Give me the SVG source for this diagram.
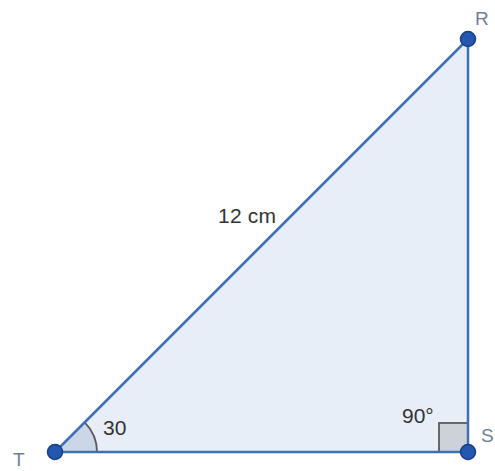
<svg xmlns="http://www.w3.org/2000/svg" width="495" height="471" viewBox="0 0 495 471">
<style>
.edge{stroke:#3f70b0;stroke-width:2.5;fill:none;stroke-linecap:round}
.pt{fill:#2457b0;stroke:#1a3f80;stroke-width:1.5}
.vlbl{font-family:"Liberation Sans",Arial,sans-serif;font-size:19px;fill:#6f8199}
.num{font-family:"Liberation Sans",Arial,sans-serif;font-size:21px;fill:#333}
.mark{stroke:#5a5a5a;stroke-width:1.8}
</style>
<rect width="495" height="471" fill="#ffffff"/>
<polygon points="55,452 468,452 468,39" fill="#e8eef8"/>
<g id="angle-T">
<path d="M55,452 L97,452 A42,42 0 0 0 84.7,422.3 Z" fill="#cbd6e6"/>
<path class="mark" d="M97,452 A42,42 0 0 0 84.7,422.3" fill="none"/>
<text class="num" x="103" y="435">30</text>
</g>
<g id="angle-S">
<rect class="mark" x="439" y="423" width="29" height="29" fill="#cdd1d9"/>
<text class="num" x="402" y="423">90°</text>
</g>
<g id="connectors">
<line class="edge" x1="55" y1="452" x2="468" y2="39"/>
<line class="edge" x1="468" y1="39" x2="468" y2="452"/>
<line class="edge" x1="55" y1="452" x2="468" y2="452"/>
<text class="num" x="218" y="223" textLength="58">12 cm</text>
</g>
<g id="node-R">
<circle class="pt" cx="468" cy="39" r="7.5"/>
<text class="vlbl" x="475" y="25">R</text>
</g>
<g id="node-S">
<circle class="pt" cx="468" cy="452" r="7.5"/>
<text class="vlbl" x="481" y="442">S</text>
</g>
<g id="node-T">
<circle class="pt" cx="55" cy="452" r="7.5"/>
<text class="vlbl" x="13" y="466">T</text>
</g>
</svg>
